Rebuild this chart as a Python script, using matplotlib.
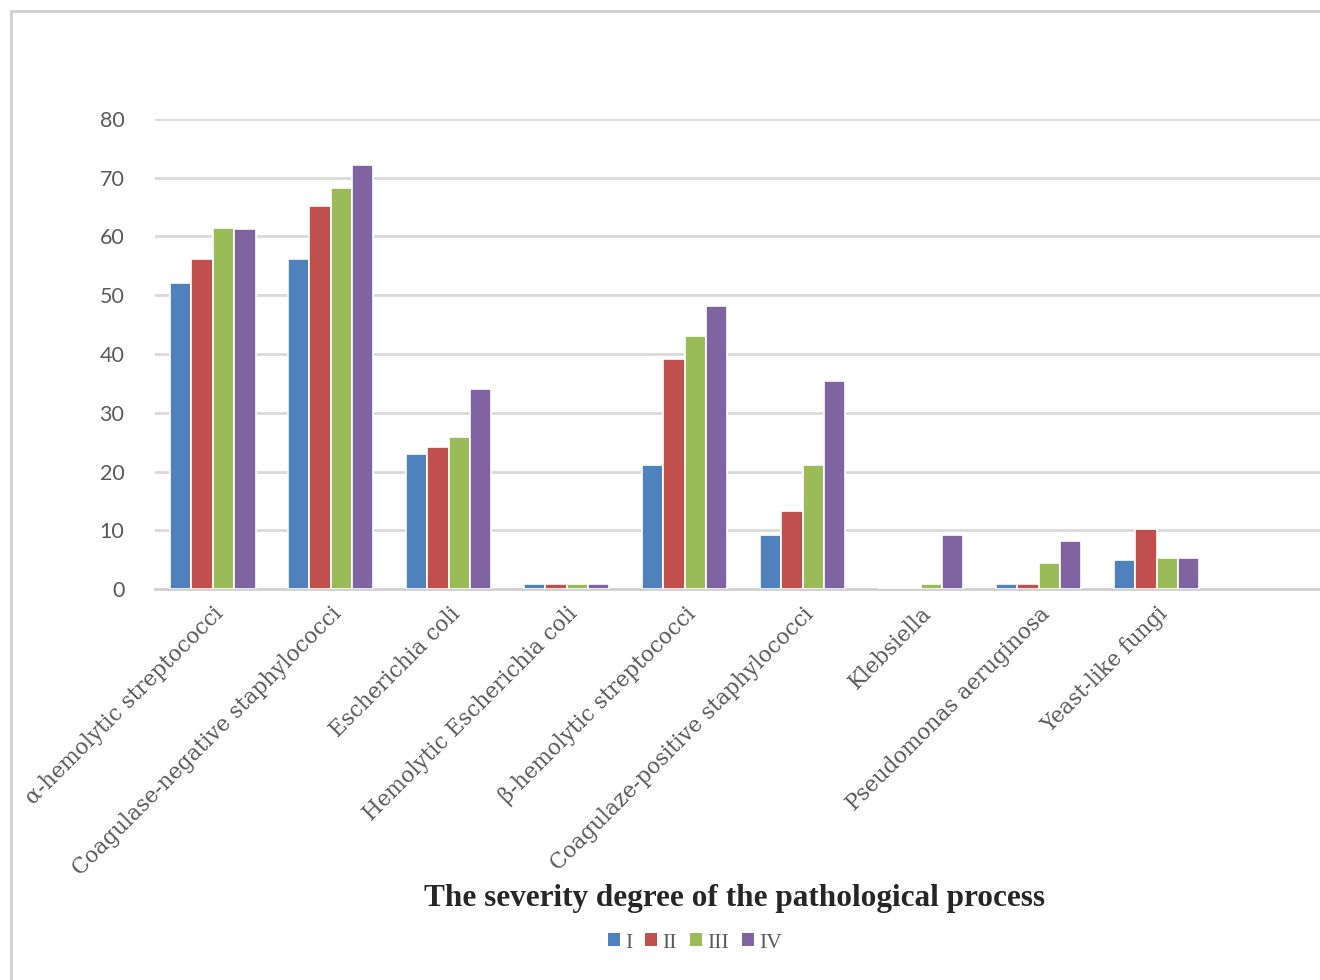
import numpy as np
import matplotlib.pyplot as plt
from matplotlib.patches import Rectangle, Patch

# Share of isolates by severity degree, per microorganism
organisms = [
    "α-hemolytic streptococci",
    "Coagulase-negative staphylococci",
    "Escherichia coli",
    "Hemolytic Escherichia coli",
    "β-hemolytic streptococci",
    "Coagulaze-positive staphylococci",
    "Klebsiella",
    "Pseudomonas aeruginosa",
    "Yeast-like fungi",
]
degree_1 = [52.1, 56.2, 23.0, 0.8, 21.1, 9.2, 0.0, 0.8, 4.9]
degree_2 = [56.2, 65.2, 24.1, 0.8, 39.1, 13.3, 0.0, 0.8, 10.2]
degree_3 = [61.5, 68.3, 25.9, 0.8, 43.1, 21.1, 0.8, 4.4, 5.2]
degree_4 = [61.3, 72.2, 34.1, 0.8, 48.2, 35.4, 9.2, 8.2, 5.2]
degree_labels = ["I", "II", "III", "IV"]

colors = ["#4F81BD", "#C0504D", "#9BBB59", "#8064A2"]
series = [degree_1, degree_2, degree_3, degree_4]

W, H = 1320, 980
fig = plt.figure(figsize=(W / 100, H / 100), dpi=100)
fig.patch.set_facecolor("white")

# light frame around the chart area
fig.patches.append(Rectangle((11 / W, -0.05), 1.2, (H - 11) / H + 0.05,
                             transform=fig.transFigure, fill=False,
                             edgecolor="#d0d0d0", linewidth=2))

ax = fig.add_axes([155 / W, 1 - 589 / H, (1330 - 155) / W, 470 / H])
x = np.arange(len(organisms))
pitch = 0.181
for i, (vals, c) in enumerate(zip(series, colors)):
    ax.bar(x + (i - 1.5) * pitch, vals, width=pitch, color=c,
           edgecolor="white", linewidth=1.2, zorder=3)

ax.set_xlim(-0.49, 9.47)
ax.set_ylim(0, 80)
ax.set_yticks(range(0, 81, 10))
ax.yaxis.grid(True, color="#d9d9d9", linewidth=2)
ax.set_axisbelow(True)
for s in ["top", "right", "left"]:
    ax.spines[s].set_visible(False)
ax.spines["bottom"].set_color("#d0d0d0")
ax.spines["bottom"].set_linewidth(2)
ax.tick_params(axis="y", length=0, pad=22, labelsize=15.5, labelcolor="#595959")
ax.tick_params(axis="x", length=0, pad=10)
for lab in ax.get_yticklabels():
    lab.set_fontfamily("Lato")

ax.set_xticks(x)
ax.set_xticklabels(organisms, rotation=45, ha="right", va="top",
                   rotation_mode="anchor", fontsize=15.5,
                   family="DejaVu Serif", color="#595959")

fig.text(735 / W, 1 - 898 / H, "The severity degree of the pathological process",
         ha="center", va="center", fontsize=22.5, fontweight="bold",
         family="Liberation Serif", color="#262626")

handles = [Patch(facecolor=c, edgecolor="none") for c in colors]
fig.legend(handles, degree_labels, loc="center", bbox_to_anchor=(695 / W, 1 - 943 / H),
           ncol=4, frameon=False, handlelength=0.55, handleheight=0.55,
           handletextpad=0.25, columnspacing=0.6,
           prop={"family": "Liberation Serif", "size": 15.5})
for t in fig.legends[0].get_texts():
    t.set_color("#595959")

fig.savefig("out.png", dpi=100)
